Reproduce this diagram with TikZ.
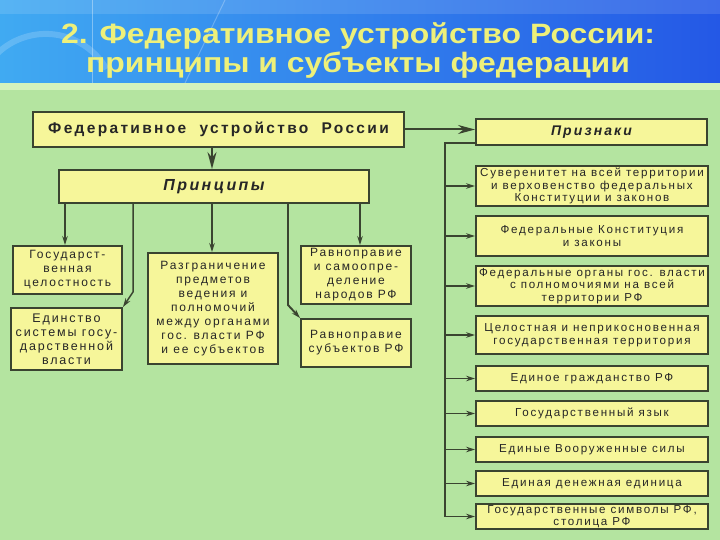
\documentclass[tikz,border=0pt]{standalone}
\usepackage{fontspec}
\setmainfont{Liberation Sans}
\newfontfamily\boxfont[LetterSpace=15]{Liberation Sans}
\newfontfamily\titlefont[FakeStretch=1.14]{Liberation Sans Bold}
\usetikzlibrary{arrows.meta}
\definecolor{bggreen}{HTML}{B4E4A0}
\definecolor{stripgreen}{HTML}{D4F2BC}
\definecolor{boxfill}{HTML}{F6F69A}
\definecolor{boxline}{HTML}{3A4430}
\definecolor{txt}{HTML}{262626}
\definecolor{titleyellow}{HTML}{EEF07A}
\definecolor{blueA}{HTML}{40AAF2}
\definecolor{blueB}{HTML}{1C3FD6}
\definecolor{blueC}{HTML}{2458E6}
\tikzset{
  box/.style={draw=boxline, fill=boxfill, line width=1.9pt, inner sep=0pt,
    align=center, text=txt, font=\boxfont\fontsize{12}{14}\selectfont},
  rbox/.style={box, minimum width=232pt, font=\boxfont\fontsize{11.6}{12.5}\selectfont},
  conn/.style={draw=boxline, line width=1.5pt},
  sarr/.style={conn, -{Stealth[length=9pt,width=5.5pt]}},
  barr/.style={draw=boxline, line width=2pt, -{Stealth[length=17pt,width=9pt]}}
}
\begin{document}
\begin{tikzpicture}[x=1pt,y=-1pt]
\useasboundingbox (0,0) rectangle (720,540);
% background
\fill[bggreen] (0,0) rectangle (720,540);
\shade[left color=blueA, middle color=blueB, right color=blueC] (0,0) rectangle (720,83);
\fill[white, opacity=0.12] (0,0) rectangle (720,14);
\draw[white, opacity=0.18, line width=6pt] (-20,80) arc (200:330:70);
\draw[white, opacity=0.35, line width=0.8pt] (92,0) -- (92,83);
\draw[white, opacity=0.25, line width=1pt] (185,83) -- (225,0);
\fill[stripgreen] (0,83) rectangle (720,90);
% title
\node[text=titleyellow, font=\titlefont\fontsize{28}{29}\selectfont, align=center, inner sep=0pt]
  (title) at (358,50) {2. Федеративное устройство России:\\принципы и субъекты федерации};
% coordinates
\coordinate (xa) at (65,0);
\coordinate (xb) at (133,0);
\coordinate (xc) at (212,0);
\coordinate (xd) at (288,0);
\coordinate (xe) at (360,0);
\coordinate (kb) at (133,292);
\coordinate (kd) at (288,305);
\coordinate (sp0) at (445,143);
\coordinate (sp1) at (445,516.5);
% main boxes
\node[box, minimum width=371pt, minimum height=35pt, font=\boxfont\bfseries\fontsize{15.5}{16}\selectfont]
  (main) at (218.5,129.5) {Федеративное\ \ устройство\ \ России};
\node[box, minimum width=310pt, minimum height=33pt, font=\boxfont\bfseries\itshape\fontsize{16}{16}\selectfont]
  (prin) at (214,186.5) {Принципы};
\node[box, minimum width=231pt, minimum height=26pt, font=\boxfont\bfseries\itshape\fontsize{14}{16}\selectfont]
  (priz) at (591.5,132) {Признаки};
% principles
\node[box, minimum width=109pt, minimum height=48pt] (gos) at (67.5,270)
  {Государст-\\венная\\целостность};
\node[box, minimum width=111pt, minimum height=62pt, font=\boxfont\fontsize{12.5}{14}\selectfont] (edin) at (66.5,339)
  {Единство\\системы госу-\\дарственной\\власти};
\node[box, minimum width=130pt, minimum height=111pt] (razg) at (213,308.5)
  {Разграничение\\предметов\\ведения и\\полномочий\\между органами\\гос. власти РФ\\и ее субъектов};
\node[box, minimum width=110pt, minimum height=58pt] (ravnA) at (356,275)
  {Равноправие\\и самоопре-\\деление\\народов РФ};
\node[box, minimum width=110pt, minimum height=48pt] (ravnB) at (356,343)
  {Равноправие\\субъектов РФ};
% features
\node[rbox, minimum height=40pt] (r1) at (592,186)
  {Суверенитет на всей территории\\и верховенство федеральных\\Конституции и законов};
\node[rbox, minimum height=40pt] (r2) at (592,236)
  {Федеральные Конституция\\и законы};
\node[rbox, minimum height=40pt] (r3) at (592,286)
  {Федеральные органы гос. власти\\с полномочиями на всей\\территории РФ};
\node[rbox, minimum height=38pt] (r4) at (592,335)
  {Целостная и неприкосновенная\\государственная территория};
\node[rbox, minimum height=25pt] (r5) at (592,378.5) {Единое гражданство РФ};
\node[rbox, minimum height=25pt] (r6) at (592,413.5) {Государственный язык};
\node[rbox, minimum height=25pt] (r7) at (592,449.5) {Единые Вооруженные силы};
\node[rbox, minimum height=25pt] (r8) at (592,483.5) {Единая денежная единица};
\node[rbox, minimum height=25pt] (r9) at (592,516.5)
  {Государственные символы РФ,\\столица РФ};
% connectors
\draw[barr] (main.east) -- (priz.west |- main.east);
\draw[barr] (main.south -| xc) -- (prin.north -| xc);
\draw[sarr] (prin.south -| xa) -- (gos.north -| xa);
\draw[sarr] (prin.south -| xb) -- (kb) -- (edin.north east);
\draw[sarr, line width=2pt] (prin.south -| xc) -- (razg.north -| xc);
\draw[sarr, line width=1.9pt] (prin.south -| xd) -- (kd) -- (ravnB.north west);
\draw[sarr] (prin.south -| xe) -- (ravnA.north -| xe);
\draw[conn] (priz.west |- sp0) -- (sp0) -- (sp1);
\foreach \n in {1,...,9} {
  \draw[sarr] (sp0 |- r\n.west) -- (r\n.west);
}
\end{tikzpicture}
\end{document}
